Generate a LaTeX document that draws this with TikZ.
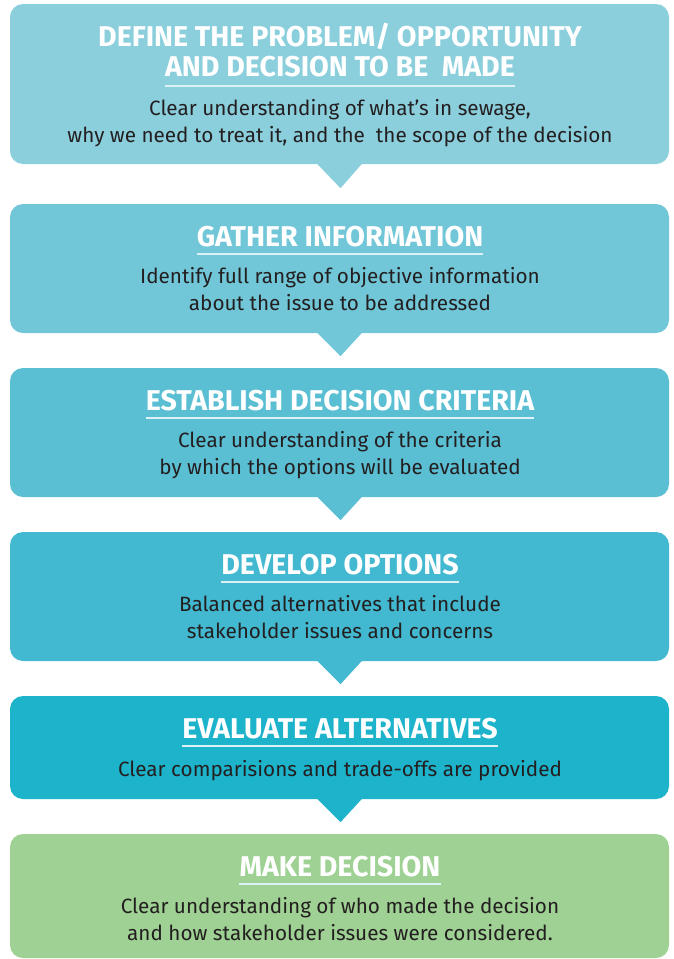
\documentclass[tikz,border=0pt]{standalone}
\usepackage{fontspec}
\setmainfont{Fira Sans}
\usetikzlibrary{positioning}
\definecolor{stepA}{HTML}{8BCFDD}
\definecolor{stepB}{HTML}{71C7D8}
\definecolor{stepC}{HTML}{5BBFD4}
\definecolor{stepD}{HTML}{42B9D0}
\definecolor{stepE}{HTML}{1CB3CB}
\definecolor{stepF}{HTML}{9ED193}
\definecolor{inktext}{HTML}{231F20}
\begin{document}
\begin{tikzpicture}[x=1pt,y=-1pt,
  box/.style={rounded corners=13pt, minimum width=659pt, inner sep=0pt},
  head/.style={anchor=base, inner sep=0pt, text=white, font=\bfseries\fontsize{28.6}{29}\selectfont},
  body/.style={anchor=base, inner sep=0pt, text=inktext, font=\fontsize{20.7}{27}\selectfont},
  rule/.style={white!70!stepA, line width=1.5pt}]
\useasboundingbox (0,0) rectangle (674,959);
% boxes
\node[box, fill=stepA, minimum height=160pt] (define) at (339.5,84) {};
\node[box, fill=stepB, minimum height=129pt] (gather) at (339.5,268.5) {};
\node[box, fill=stepC, minimum height=129pt] (criteria) at (339.5,432.5) {};
\node[box, fill=stepD, minimum height=129pt] (options) at (339.5,596.5) {};
\node[box, fill=stepE, minimum height=103pt] (evaluate) at (339.5,747.5) {};
\node[box, fill=stepF, minimum height=124pt] (decide) at (339.5,896) {};
% pointers
\fill[stepA] ([xshift=-23pt,yshift=1pt]define.south) -- ([xshift=23pt,yshift=1pt]define.south) -- ([xshift=1pt,yshift=-24pt]define.south) -- cycle;
\fill[stepB] ([xshift=-23pt,yshift=1pt]gather.south) -- ([xshift=23pt,yshift=1pt]gather.south) -- ([xshift=1pt,yshift=-23pt]gather.south) -- cycle;
\fill[stepC] ([xshift=-23pt,yshift=1pt]criteria.south) -- ([xshift=23pt,yshift=1pt]criteria.south) -- ([xshift=1pt,yshift=-23pt]criteria.south) -- cycle;
\fill[stepD] ([xshift=-23pt,yshift=1pt]options.south) -- ([xshift=23pt,yshift=1pt]options.south) -- ([xshift=1pt,yshift=-23pt]options.south) -- cycle;
\fill[stepE] ([xshift=-23pt,yshift=1pt]evaluate.south) -- ([xshift=23pt,yshift=1pt]evaluate.south) -- ([xshift=1pt,yshift=-23pt]evaluate.south) -- cycle;
% step 1
\node[head] (defineA) at (340,46) {DEFINE THE PROBLEM/ OPPORTUNITY};
\node[head] (defineB) at (340,76) {AND DECISION TO BE\ \ MADE};
\draw[rule] ([yshift=-10pt]defineB.base west) -- ([yshift=-10pt]defineB.base east);
\node[body] (defineC) at (340,115) {Clear understanding of what’s in sewage,};
\node[body] (defineD) at (340,142) {why we need to treat it, and the\ \ the scope of the decision};
% step 2
\node[head] (gatherA) at (340,246) {GATHER INFORMATION};
\draw[rule] ([yshift=-8pt]gatherA.base west) -- ([yshift=-8pt]gatherA.base east);
\node[body] (gatherB) at (340,283) {Identify full range of objective information};
\node[body] (gatherC) at (340,310) {about the issue to be addressed};
% step 3
\node[head] (criteriaA) at (340,410) {ESTABLISH DECISION CRITERIA};
\draw[rule] ([yshift=-8pt]criteriaA.base west) -- ([yshift=-8pt]criteriaA.base east);
\node[body] (criteriaB) at (340,447) {Clear understanding of the criteria};
\node[body] (criteriaC) at (340,474) {by which the options will be evaluated};
% step 4
\node[head] (optionsA) at (340,574) {DEVELOP OPTIONS};
\draw[rule] ([yshift=-8pt]optionsA.base west) -- ([yshift=-8pt]optionsA.base east);
\node[body] (optionsB) at (340,611) {Balanced alternatives that include};
\node[body] (optionsC) at (340,638) {stakeholder issues and concerns};
% step 5
\node[head] (evaluateA) at (340,738) {EVALUATE ALTERNATIVES};
\draw[rule] ([yshift=-8pt]evaluateA.base west) -- ([yshift=-8pt]evaluateA.base east);
\node[body] (evaluateB) at (340,776) {Clear comparisions and trade-offs are provided};
% step 6
\node[head] (decideA) at (340,876) {MAKE DECISION};
\draw[rule] ([yshift=-8pt]decideA.base west) -- ([yshift=-8pt]decideA.base east);
\node[body] (decideB) at (340,913) {Clear understanding of who made the decision};
\node[body] (decideC) at (340,940) {and how stakeholder issues were considered.};
\end{tikzpicture}
\end{document}
